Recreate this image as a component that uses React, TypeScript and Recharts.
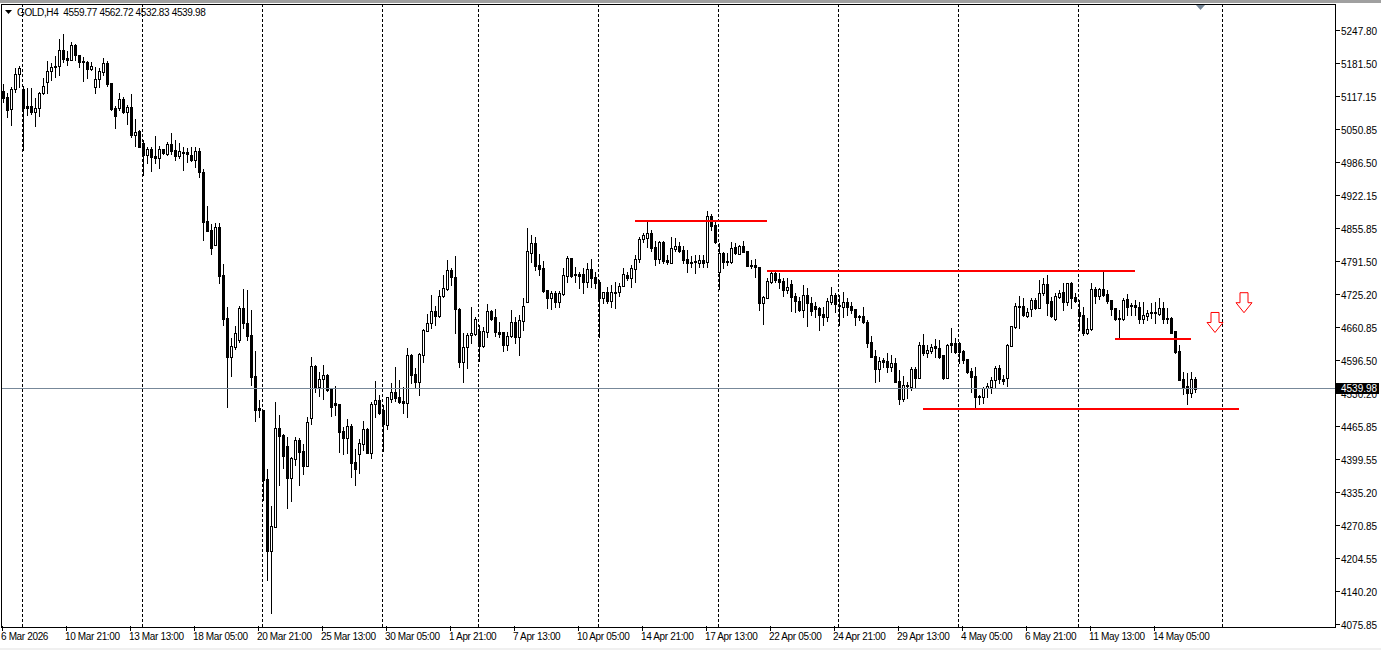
import { Bar, ComposedChart, ReferenceDot, ReferenceLine, XAxis, YAxis } from "recharts";

const FONT = '"Liberation Sans", sans-serif';
const SLOT_COUNT = 333;

const opens = [
  5127, 5116, 5092, 5131, 5161, 5131, 5098, 5098, 5086, 5094,
  5124, 5145, 5167, 5177, 5177, 5208, 5193, 5189, 5218, 5198,
  5187, 5185, 5171, 5135, 5151, 5165, 5183, 5143, 5094, 5094,
  5112, 5086, 5096, 5041, 5049, 5025, 5001, 5013, 4999, 4995,
  5013, 5003, 5023, 5011, 4999, 5007, 5007, 5001, 4991, 5009,
  4968, 4871, 4853, 4824, 4859, 4764, 4680, 4603, 4622, 4636,
  4699, 4670, 4646, 4565, 4502, 4498, 4362, 4220, 4267, 4463,
  4449, 4427, 4364, 4401, 4439, 4417, 4388, 4482, 4585, 4543,
  4559, 4567, 4541, 4512, 4510, 4457, 4443, 4467, 4395, 4411,
  4431, 4461, 4413, 4510, 4518, 4498, 4468, 4520, 4534, 4524,
  4516, 4512, 4607, 4569, 4553, 4607, 4654, 4670, 4693, 4684,
  4723, 4737, 4774, 4760, 4697, 4593, 4622, 4646, 4648, 4654,
  4624, 4652, 4693, 4682, 4652, 4652, 4626, 4644, 4672, 4642,
  4674, 4711, 4808, 4828, 4784, 4778, 4735, 4719, 4729, 4711,
  4727, 4762, 4798, 4766, 4766, 4766, 4751, 4776, 4760, 4751,
  4719, 4731, 4713, 4731, 4731, 4743, 4764, 4759, 4776, 4796,
  4835, 4837, 4847, 4820, 4796, 4830, 4794, 4788, 4816, 4822,
  4814, 4796, 4790, 4792, 4788, 4794, 4790, 4881, 4863, 4770,
  4808, 4792, 4790, 4820, 4806, 4822, 4812, 4784, 4784, 4780,
  4709, 4719, 4751, 4768, 4757, 4753, 4735, 4747, 4723, 4713,
  4695, 4725, 4709, 4703, 4699, 4687, 4682, 4711, 4725, 4705,
  4701, 4711, 4703, 4697, 4684, 4684, 4672, 4632, 4605, 4579,
  4597, 4595, 4583, 4591, 4555, 4520, 4547, 4543, 4579, 4561,
  4626, 4611, 4614, 4624, 4620, 4607, 4561, 4630, 4630, 4630,
  4614, 4599, 4575, 4565, 4526, 4524, 4541, 4543, 4557, 4581,
  4559, 4561, 4624, 4662, 4703, 4703, 4684, 4697, 4715, 4699,
  4729, 4747, 4713, 4678, 4721, 4731, 4711, 4749, 4721, 4691,
  4686, 4650, 4658, 4737, 4723, 4737, 4727, 4715, 4699, 4678,
  4678, 4717, 4705, 4705, 4701, 4678, 4684, 4691, 4691, 4687,
  4699, 4680, 4680, 4654, 4614, 4559, 4545, 4532, 4559.77,
];

const highs = [
  5141, 5124, 5135, 5173, 5177, 5137, 5133, 5133, 5114, 5125,
  5153, 5187, 5183, 5197, 5230, 5240, 5206, 5224, 5220, 5198,
  5195, 5187, 5185, 5175, 5173, 5193, 5187, 5143, 5098, 5124,
  5116, 5100, 5122, 5072, 5051, 5031, 5017, 5017, 5039, 5019,
  5013, 5027, 5045, 5031, 5025, 5017, 5015, 5017, 5017, 5015,
  4974, 4901, 4865, 4867, 4867, 4786, 4701, 4640, 4664, 4703,
  4737, 4735, 4695, 4614, 4518, 4498, 4382, 4309, 4514, 4488,
  4451, 4445, 4405, 4445, 4443, 4431, 4484, 4603, 4587, 4573,
  4587, 4569, 4541, 4545, 4510, 4465, 4480, 4470, 4421, 4441,
  4476, 4463, 4514, 4555, 4528, 4508, 4524, 4551, 4583, 4557,
  4543, 4620, 4609, 4581, 4611, 4658, 4687, 4725, 4703, 4735,
  4764, 4794, 4778, 4802, 4699, 4649, 4649, 4701, 4682, 4666,
  4662, 4707, 4695, 4697, 4672, 4652, 4652, 4695, 4682, 4686,
  4719, 4857, 4843, 4839, 4806, 4792, 4735, 4733, 4733, 4733,
  4778, 4802, 4798, 4780, 4770, 4778, 4788, 4796, 4770, 4755,
  4731, 4741, 4745, 4751, 4749, 4778, 4770, 4784, 4804, 4839,
  4847, 4869, 4853, 4832, 4832, 4832, 4804, 4839, 4837, 4830,
  4822, 4814, 4802, 4804, 4804, 4804, 4891, 4885, 4869, 4828,
  4810, 4808, 4830, 4828, 4824, 4832, 4812, 4794, 4796, 4780,
  4723, 4759, 4774, 4770, 4768, 4759, 4759, 4755, 4729, 4721,
  4745, 4739, 4721, 4711, 4701, 4701, 4719, 4741, 4729, 4725,
  4731, 4719, 4711, 4697, 4686, 4701, 4676, 4644, 4616, 4603,
  4601, 4611, 4607, 4601, 4577, 4565, 4553, 4583, 4583, 4632,
  4648, 4626, 4628, 4638, 4636, 4607, 4628, 4660, 4640, 4632,
  4616, 4599, 4581, 4583, 4528, 4543, 4551, 4563, 4585, 4587,
  4567, 4628, 4664, 4709, 4723, 4719, 4699, 4719, 4719, 4755,
  4759, 4764, 4721, 4729, 4735, 4749, 4749, 4751, 4729, 4715,
  4701, 4680, 4749, 4741, 4739, 4771, 4735, 4715, 4699, 4695,
  4719, 4727, 4709, 4715, 4711, 4711, 4695, 4709, 4711, 4719,
  4711, 4699, 4682, 4654, 4626, 4573, 4571, 4573, 4562.72,
];

const lows = [
  5106, 5076, 5060, 5125, 5135, 5011, 5080, 5082, 5058, 5078,
  5122, 5124, 5149, 5155, 5159, 5185, 5179, 5189, 5189, 5175,
  5147, 5153, 5169, 5124, 5135, 5159, 5137, 5090, 5054, 5090,
  5084, 5062, 5037, 5019, 5017, 4962, 4985, 4970, 4985, 4976,
  5003, 5001, 5003, 4991, 4995, 4972, 4987, 4989, 4978, 4958,
  4833, 4851, 4806, 4824, 4749, 4666, 4504, 4565, 4618, 4632,
  4660, 4636, 4547, 4476, 4484, 4321, 4163, 4098, 4267, 4350,
  4384, 4305, 4319, 4390, 4350, 4372, 4388, 4470, 4534, 4526,
  4520, 4536, 4486, 4488, 4415, 4411, 4413, 4366, 4350, 4374,
  4419, 4413, 4403, 4484, 4490, 4417, 4461, 4514, 4516, 4512,
  4492, 4484, 4551, 4541, 4528, 4593, 4654, 4660, 4666, 4682,
  4721, 4735, 4745, 4649, 4583, 4553, 4581, 4630, 4646, 4595,
  4622, 4642, 4676, 4644, 4642, 4614, 4616, 4642, 4630, 4607,
  4656, 4711, 4790, 4774, 4764, 4731, 4699, 4697, 4701, 4701,
  4725, 4751, 4760, 4751, 4739, 4729, 4741, 4741, 4739, 4642,
  4709, 4709, 4701, 4699, 4723, 4743, 4755, 4741, 4751, 4791,
  4830, 4820, 4812, 4784, 4788, 4788, 4786, 4788, 4812, 4810,
  4788, 4770, 4780, 4768, 4780, 4780, 4780, 4853, 4828, 4737,
  4778, 4784, 4788, 4806, 4806, 4810, 4782, 4778, 4760, 4695,
  4668, 4719, 4749, 4751, 4739, 4723, 4729, 4693, 4691, 4693,
  4682, 4664, 4686, 4682, 4656, 4666, 4674, 4707, 4691, 4666,
  4682, 4686, 4689, 4666, 4676, 4670, 4622, 4603, 4553, 4555,
  4583, 4573, 4575, 4553, 4510, 4516, 4522, 4538, 4541, 4561,
  4607, 4603, 4611, 4603, 4601, 4559, 4561, 4613, 4611, 4591,
  4591, 4571, 4534, 4504, 4510, 4512, 4524, 4532, 4541, 4551,
  4549, 4545, 4624, 4660, 4660, 4684, 4682, 4684, 4697, 4699,
  4725, 4686, 4682, 4676, 4719, 4695, 4705, 4699, 4711, 4656,
  4646, 4648, 4656, 4709, 4717, 4723, 4709, 4686, 4676, 4640,
  4676, 4686, 4686, 4686, 4670, 4670, 4676, 4680, 4670, 4686,
  4670, 4670, 4650, 4611, 4557, 4530, 4510, 4524, 4532.83,
];

const closes = [
  5114, 5090, 5131, 5161, 5173, 5094, 5094, 5086, 5094, 5124,
  5137, 5167, 5175, 5175, 5208, 5191, 5189, 5218, 5198, 5185,
  5185, 5171, 5177, 5151, 5167, 5183, 5141, 5092, 5078, 5112,
  5086, 5096, 5041, 5047, 5017, 5001, 5013, 4997, 4995, 5013,
  5005, 5023, 5009, 4999, 5009, 5005, 5003, 4991, 5009, 4968,
  4869, 4851, 4818, 4859, 4762, 4678, 4603, 4624, 4650, 4699,
  4670, 4644, 4563, 4498, 4498, 4360, 4220, 4269, 4463, 4447,
  4407, 4364, 4403, 4439, 4415, 4388, 4474, 4585, 4543, 4559,
  4567, 4538, 4504, 4508, 4455, 4443, 4467, 4394, 4382, 4433,
  4461, 4413, 4510, 4518, 4492, 4470, 4524, 4534, 4522, 4514,
  4512, 4607, 4567, 4553, 4609, 4656, 4670, 4694, 4684, 4723,
  4739, 4774, 4760, 4697, 4593, 4622, 4646, 4650, 4678, 4624,
  4654, 4693, 4678, 4652, 4648, 4626, 4644, 4672, 4642, 4676,
  4703, 4812, 4828, 4782, 4776, 4733, 4719, 4729, 4711, 4729,
  4764, 4798, 4762, 4764, 4762, 4751, 4776, 4759, 4749, 4719,
  4731, 4713, 4731, 4729, 4743, 4766, 4759, 4778, 4796, 4835,
  4843, 4847, 4818, 4796, 4830, 4792, 4790, 4818, 4822, 4812,
  4794, 4788, 4788, 4790, 4794, 4788, 4881, 4861, 4830, 4808,
  4790, 4790, 4818, 4808, 4822, 4810, 4782, 4782, 4780, 4709,
  4721, 4753, 4768, 4755, 4751, 4735, 4741, 4721, 4713, 4695,
  4725, 4709, 4693, 4697, 4686, 4682, 4713, 4725, 4707, 4703,
  4711, 4701, 4695, 4682, 4682, 4672, 4630, 4603, 4579, 4595,
  4593, 4583, 4591, 4553, 4520, 4547, 4545, 4579, 4561, 4626,
  4611, 4616, 4622, 4620, 4603, 4561, 4626, 4626, 4613, 4613,
  4597, 4573, 4563, 4524, 4524, 4541, 4545, 4557, 4581, 4559,
  4555, 4626, 4664, 4703, 4701, 4686, 4691, 4715, 4699, 4729,
  4747, 4709, 4684, 4723, 4729, 4711, 4749, 4719, 4713, 4684,
  4650, 4658, 4737, 4723, 4737, 4725, 4713, 4697, 4678, 4680,
  4715, 4701, 4703, 4701, 4678, 4686, 4689, 4689, 4689, 4699,
  4678, 4678, 4650, 4613, 4557, 4543, 4532, 4559, 4539.98,
];

const priceTicks = [
  5247.8, 5181.5, 5117.15, 5050.85, 4986.5, 4922.15, 4855.85, 4791.5, 4725.2, 4660.85,
  4596.5, 4530.2, 4465.85, 4399.55, 4335.2, 4270.85, 4204.55, 4140.2, 4075.85,
];

const timeLabels = [
  "6 Mar 2026", "10 Mar 21:00", "13 Mar 13:00", "18 Mar 05:00", "20 Mar 21:00",
  "25 Mar 13:00", "30 Mar 05:00", "1 Apr 21:00", "7 Apr 13:00", "10 Apr 05:00",
  "14 Apr 21:00", "17 Apr 13:00", "22 Apr 05:00", "24 Apr 21:00", "29 Apr 13:00",
  "4 May 05:00", "6 May 21:00", "11 May 13:00", "14 May 05:00",
];
const LABEL_EVERY = 16;

// bar numbers where the period separators fall
const separators = [5, 35, 65, 95, 119, 149, 179, 209, 239, 269, 305];

const levels = [
  { from: 158, to: 191, price: 4872 },
  { from: 191, to: 283, price: 4773.3 },
  { from: 278, to: 297, price: 4639.1 },
  { from: 230, to: 309, price: 4501 },
];

const arrows = [
  { slot: 303, price: 4652, shift: 0.5 },
  { slot: 310, price: 4691, shift: 1.5 },
];

const lastPrice = 4539.98;
// the terminal rounds the price line up to the row above
const lastPriceRow = 4541.5;

const rows = Array.from({ length: SLOT_COUNT }, (_, slot) => ({
  slot,
  range: slot < opens.length ? [lows[slot], highs[slot]] : null,
  open: opens[slot],
  high: highs[slot],
  low: lows[slot],
  close: closes[slot],
}));

const tickSlots = timeLabels.map((_, i) => i * LABEL_EVERY);

const Candle = (props: any) => {
  const { x, y, width, height, payload } = props;
  if (!payload || payload.open === undefined) return null;
  const { open, high, low, close } = payload;
  const perUnit = height / (high - low);
  const toY = (v: number) => y + (high - v) * perUnit;
  const cx = Math.floor(x + width / 2) + 0.5;
  const top = Math.floor(toY(Math.max(open, close))) + 0.5;
  const bottom = Math.floor(toY(Math.min(open, close))) + 0.5;
  const up = close > open;
  return (
    <g shapeRendering="crispEdges">
      <line x1={cx} x2={cx} y1={Math.floor(y)} y2={Math.floor(y + height) + 1} stroke="#000" />
      <rect
        x={cx - 1}
        y={top}
        width={2}
        height={Math.max(bottom - top, 1)}
        fill={up ? "#fff" : "#000"}
        stroke="#000"
      />
    </g>
  );
};

const DownArrow = ({ cx, cy, shift }: any) => {
  const tx = cx + shift;
  const pts = [
    [0, 0], [-8, -10], [-4, -10], [-4, -20], [4, -20], [4, -10], [8, -10],
  ]
    .map(([dx, dy]) => `${tx + dx},${cy + dy}`)
    .join(" ");
  return <polygon points={pts} fill="#fff" stroke="#ff0000" strokeWidth={1} />;
};

// recharts hands the ticks over 8px away from the axis
const TimeTick = ({ x, y, payload }: any) => (
  <g>
    <line x1={x} x2={x} y1={y - 9} y2={y - 4} stroke="#000" shapeRendering="crispEdges" />
    <text x={x - 1.5} y={y + 5} fontSize={10} letterSpacing={-0.35} fontFamily={FONT} fill="#000" textAnchor="start">
      {timeLabels[payload.value / LABEL_EVERY]}
    </text>
  </g>
);

const PriceTick = ({ x, y, payload }: any) => {
  // price labels sit on a 33px grid in the terminal
  const row = 30.5 + Math.round((y - 30.5) / 33) * 33;
  const ax = x - 8;
  return (
    <g>
      <line x1={ax} x2={ax + 4} y1={row} y2={row} stroke="#000" shapeRendering="crispEdges" />
      <text x={ax + 5.5} y={row + 4} fontSize={10} fontFamily={FONT} fill="#000">
        {payload.value.toFixed(2)}
      </text>
    </g>
  );
};

export default function App() {
  return (
    <div style={{ position: "absolute", left: 0, top: 0, width: 1381, height: 650, background: "#fff", overflow: "hidden" }}>
      <div style={{ position: "absolute", left: 0, top: 0, width: 1381, height: 3, background: "#a0a0a0" }} />
      <div style={{ position: "absolute", left: 0, top: 648, width: 1381, height: 2, background: "#f0f0f0" }} />
      <ComposedChart
        width={1381}
        height={650}
        data={rows}
        barCategoryGap={0}
        margin={{ top: 4, right: 0, bottom: 0, left: 0.5 }}
      >
        <XAxis
          dataKey="slot"
          type="category"
          ticks={tickSlots}
          interval={0}
          height={23}
          padding={{ left: 0, right: 3 }}
          axisLine={false}
          tickLine={false}
          tick={<TimeTick />}
        />
        <YAxis
          orientation="right"
          type="number"
          domain={[4070.9, 5300.1]}
          allowDataOverflow
          ticks={priceTicks}
          interval={0}
          width={45.5}
          axisLine={false}
          tickLine={false}
          tick={<PriceTick />}
        />
        {separators.map((s) => (
          <ReferenceLine key={s} x={s} stroke="#000" strokeDasharray="3 2" shapeRendering="crispEdges" />
        ))}
        <ReferenceLine y={lastPriceRow} stroke="#778899" shapeRendering="crispEdges" />
        <Bar dataKey="range" barSize={3} isAnimationActive={false} shape={<Candle />} />
        {levels.map((l) => (
          <ReferenceLine
            key={l.from}
            segment={[
              { x: l.from, y: l.price },
              { x: l.to, y: l.price },
            ]}
            stroke="#ff0000"
            strokeWidth={2}
            shapeRendering="crispEdges"
          />
        ))}
        {arrows.map((a) => (
          <ReferenceDot
            key={a.slot}
            x={a.slot}
            y={a.price}
            r={0}
            ifOverflow="visible"
            shape={(p: any) => <DownArrow {...p} shift={a.shift} />}
          />
        ))}
      </ComposedChart>
      {/* chart frame */}
      <div style={{ position: "absolute", left: 1, top: 4, width: 1333, height: 622, border: "1px solid #000", pointerEvents: "none" }} />
      {/* last price tag, has to sit over the axis labels */}
      <div style={{ position: "absolute", left: 1336, top: 383, width: 38, height: 11, paddingLeft: 5, background: "#000", color: "#fff", fontFamily: FONT, fontSize: 10, lineHeight: "11px" }}>
        {lastPrice.toFixed(2)}
      </div>
      {/* shift marker */}
      <svg width={12} height={8} style={{ position: "absolute", left: 1195, top: 4 }}>
        <polygon points="1,1 10,1 5.5,6" fill="#778899" />
      </svg>
      {/* header */}
      <svg width={12} height={8} style={{ position: "absolute", left: 4, top: 9 }}>
        <polygon points="1,1 8,1 4.5,5" fill="#000" />
      </svg>
      <div style={{ position: "absolute", left: 17, top: 6, fontFamily: FONT, fontSize: 10, letterSpacing: -0.35, lineHeight: "13px", color: "#000", whiteSpace: "pre" }}>
        GOLD,H4  4559.77 4562.72 4532.83 4539.98
      </div>
    </div>
  );
}
